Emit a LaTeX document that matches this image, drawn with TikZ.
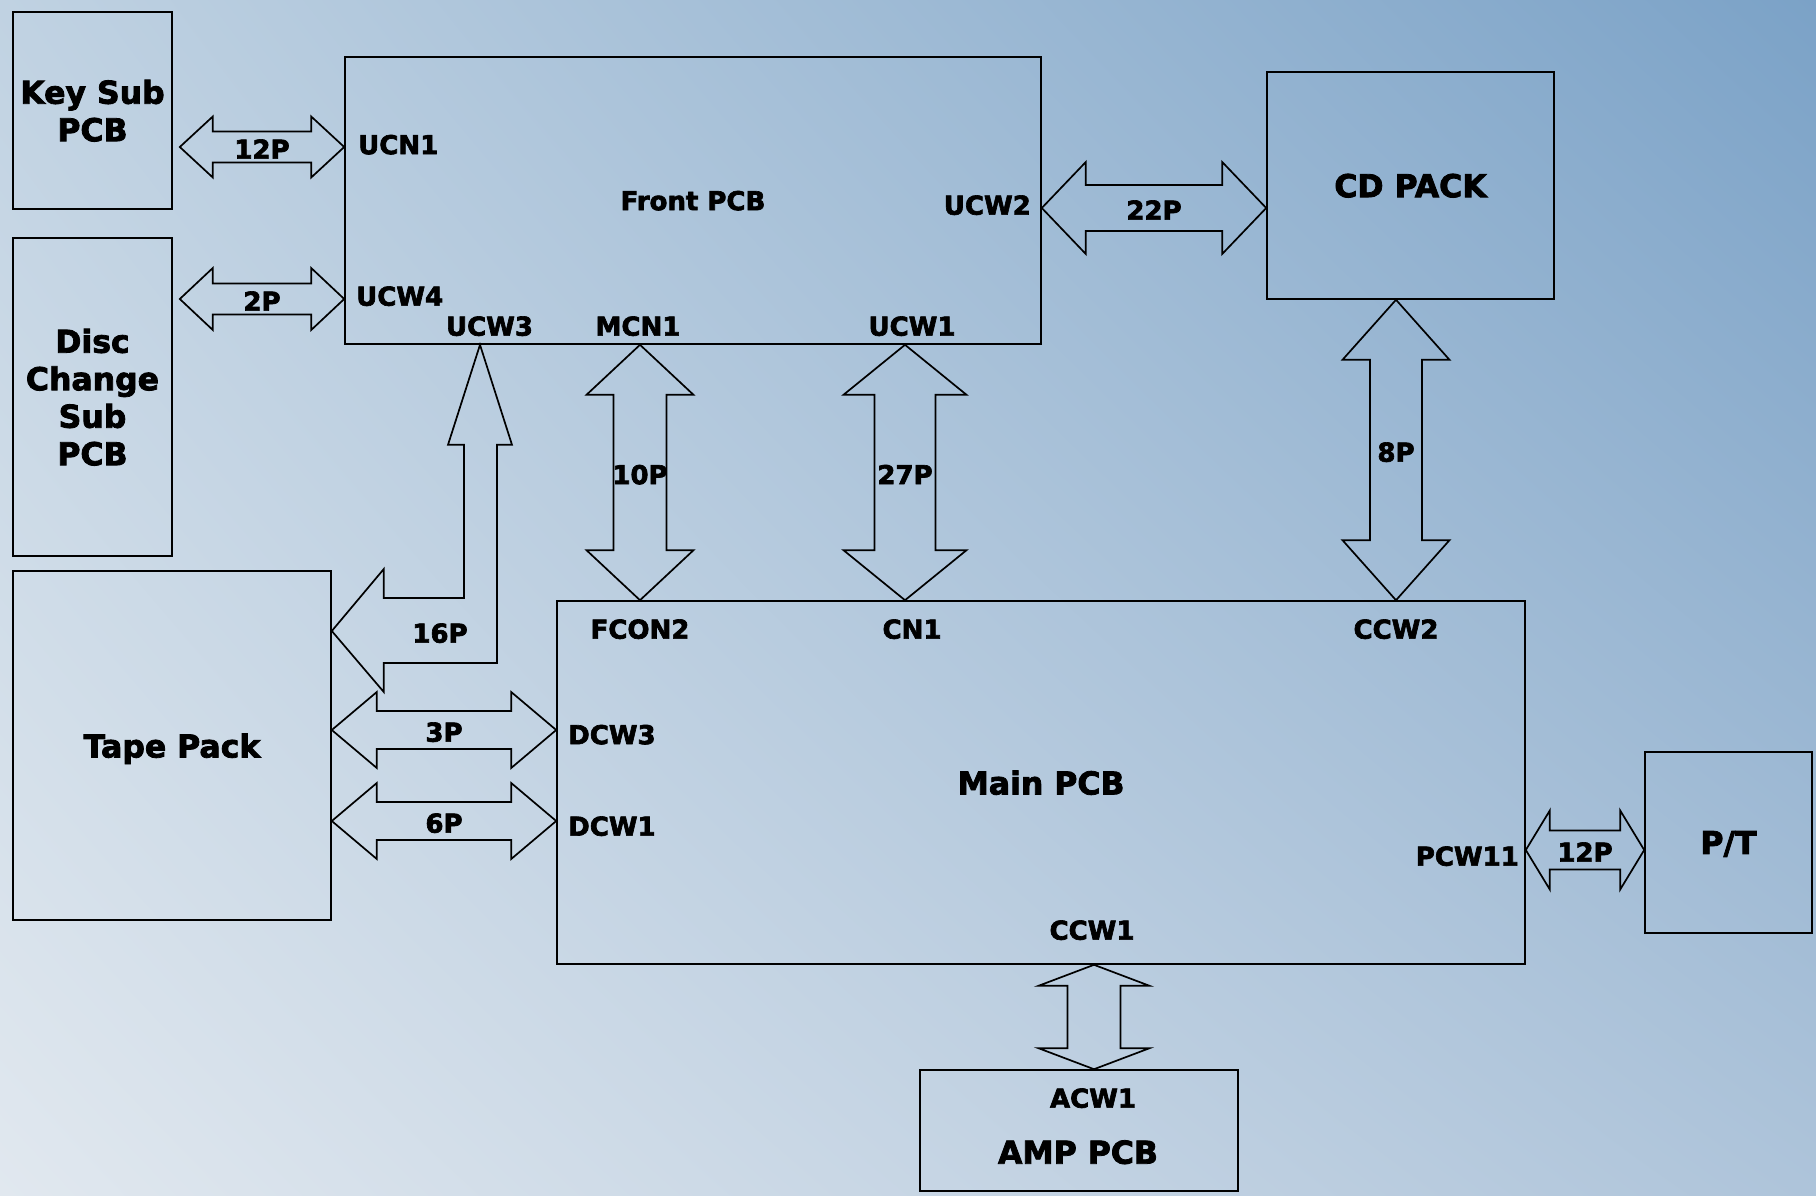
\documentclass[tikz,border=0pt]{standalone}
\usepackage{fontspec}
\setmainfont{DejaVu Sans}[BoldFeatures={FakeBold=2.5}]
\usetikzlibrary{calc,shadings}

\definecolor{bgUL}{HTML}{C0D2E2}
\definecolor{bgUR}{HTML}{7BA2C7}
\definecolor{bgLL}{HTML}{E1E8EF}
\definecolor{bgLR}{HTML}{AEC4DA}

% block bus arrows: tip, tip, head half width, shaft half width, head length, label
\newcommand{\busH}[6]{%
  \draw[bus] let \p1=#1, \p2=#2, \n1={\x2-\x1-2*#5} in
    (\p1) -- ++(#5,-#3) -- ++(0,#3-#4) -- ++(\n1,0) -- ++(0,#4-#3) -- (\p2)
    -- ++(-#5,#3) -- ++(0,#4-#3) -- ++(-\n1,0) -- ++(0,#3-#4) -- cycle;
  \path #1 -- node[pin, yshift=-2pt] {#6} #2;}
\newcommand{\busV}[6]{%
  \draw[bus] let \p1=#1, \p2=#2, \n1={\y1-\y2-2*#5} in
    (\p1) -- ++(#3,#5) -- ++(#4-#3,0) -- ++(0,-\n1) -- ++(#3-#4,0) -- (\p2)
    -- ++(-#3,-#5) -- ++(#3-#4,0) -- ++(0,\n1) -- ++(#4-#3,0) -- cycle;
  \path #1 -- node[pin, yshift=-2pt] {#6} #2;}

\begin{document}
\begin{tikzpicture}[
  x=1pt, y=-1pt,
  font=\fontsize{26}{31}\selectfont\bfseries,
  board/.style={draw, line width=1.6pt, align=center, inner sep=0pt, text depth=0pt,
                font=\fontsize{31.5}{37.5}\selectfont\bfseries},
  pin/.style={inner sep=0pt, text depth=0pt},
  bus/.style={draw, line width=1.7pt, line join=miter},
]

% ---- background -----------------------------------------------------------
\shade[upper left=bgUL, upper right=bgUR, lower left=bgLL, lower right=bgLR]
  (0,0) rectangle (1816,1196);
\useasboundingbox (0,0) rectangle (1816,1196);

% ---- boards -----------------------------------------------------------------
\node[board, minimum width=159pt, minimum height=197pt] (keysub) at (92.5,110.5) {Key Sub\\PCB};
\node[board, minimum width=159pt, minimum height=318pt] (disc)   at (92.5,397) {Disc\\Change\\Sub\\PCB};
\node[board, minimum width=318pt, minimum height=349pt] (tape)   at (172,745.5) {Tape Pack};
\node[board, minimum width=696pt, minimum height=287pt,
      font=\fontsize{26}{31}\selectfont\bfseries] (front) at (693,200.5) {Front PCB};
\node[board, minimum width=287pt, minimum height=227pt] (cd)     at (1410.5,185.5) {CD PACK};
\node[board, minimum width=968pt, minimum height=363pt] (main)   at (1041,782.5) {Main PCB};
\node[board, minimum width=167pt, minimum height=181pt] (pt)     at (1728.5,842.5) {P/T};
\node[board, minimum width=318pt, minimum height=121pt] (amp)    at (1079,1130.5) {};
\node[board, draw=none] (ampname) at (1078,1152) {AMP PCB};

% ---- connector pins ---------------------------------------------------------
\coordinate (ucn1)  at (front.west |- 0,147);
\coordinate (ucw4)  at (front.west |- 0,299);
\coordinate (ucw2)  at (front.east |- 0,208);
\coordinate (ucw3)  at (front.south -| 480,0);
\coordinate (mcn1)  at (front.south -| 640,0);
\coordinate (ucw1)  at (front.south -| 905,0);
\coordinate (ccw2)  at (main.north -| 1396,0);
\coordinate (dcw3)  at (main.west |- 0,730);
\coordinate (dcw1)  at (main.west |- 0,821);
\coordinate (pcw11) at (main.east |- 0,850);
\coordinate (ccw1)  at (main.south -| 1094,0);
\coordinate (tp16)  at (tape.east |- 0,631);

\node[pin, anchor=west] at (358,144.5) {UCN1};
\node[pin, anchor=west] at (356,296) {UCW4};
\node[pin] at (489.5,326) {UCW3};
\node[pin] at (638,326) {MCN1};
\node[pin] at (912,326) {UCW1};
\node[pin, anchor=east] at (1031,205) {UCW2};
\node[pin] at (640,629) {FCON2};
\node[pin] at (912,629) {CN1};
\node[pin] at (1396,629) {CCW2};
\node[pin, anchor=west] at (568,734.5) {DCW3};
\node[pin, anchor=west] at (568,826) {DCW1};
\node[pin, anchor=east] at (1519,856) {PCW11};
\node[pin] at (1092,930) {CCW1};
\node[pin] at (1093,1098) {ACW1};

% ---- buses ------------------------------------------------------------------
\busH{([xshift=7pt]keysub.east |- ucn1)}{(ucn1)}{30.5}{15.5}{33}{12P}
\busH{([xshift=7pt]disc.east |- ucw4)}{(ucw4)}{31}{15.5}{33}{2P}
\busH{(ucw2)}{(cd.west |- ucw2)}{46}{23}{44}{22P}
\busH{(tape.east |- dcw3)}{(dcw3)}{38}{19}{45}{3P}
\busH{(tape.east |- dcw1)}{(dcw1)}{38}{19}{45}{6P}
\busH{(pcw11)}{(pt.west |- pcw11)}{39.5}{19.5}{24}{12P}
\busV{(mcn1)}{(main.north -| mcn1)}{53.5}{26.5}{50}{10P}
\busV{(ucw1)}{(main.north -| ucw1)}{61.5}{30.5}{50}{27P}
\busV{(cd.south -| ccw2)}{(ccw2)}{53.5}{26}{60}{8P}
\busV{(ccw1)}{(amp.north -| ccw1)}{55.5}{26.5}{21}{}

% tape deck bus bends up to the front board
\draw[bus] let \p1=(ucw3), \p2=(tp16) in
  (\p1) -- ++(32,100) -- ++(-15,0) -- (\x1+17pt,\y2-32pt) -- (\x2+52pt,\y2-32pt)
  -- ++(0,29) -- (\p2) -- ++(52,-62) -- ++(0,29) -- (\x1-16pt,\y2+33pt)
  -- (\x1-16pt,\y1-100pt) -- ++(-16,0) -- cycle;
\node[pin] at (440,633) {16P};

\end{tikzpicture}
\end{document}
